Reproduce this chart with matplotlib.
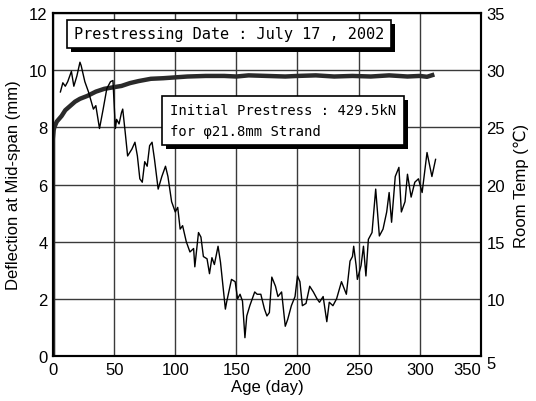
# deflection at mid-span and room temperature vs age

import matplotlib
matplotlib.use('Agg')
import matplotlib.pyplot as plt
import matplotlib.patheffects as pe
from matplotlib import font_manager

# deflection (thick line), mm
defl_day = [0, 0, 0.5, 1, 2, 3, 5, 7, 10, 14, 18, 22, 28, 35, 42, 49, 56, 63, 70, 80,
            90, 100, 110, 125, 140, 150, 160, 175, 190, 200, 215, 230, 245, 260, 275,
            290, 300, 306, 312]
defl = [0, 7.6, 7.9, 8.0, 8.1, 8.2, 8.3, 8.4, 8.6, 8.75, 8.9, 9.0, 9.1, 9.25, 9.35,
        9.4, 9.45, 9.55, 9.62, 9.7, 9.72, 9.75, 9.78, 9.8, 9.8, 9.78, 9.82, 9.8, 9.78,
        9.8, 9.82, 9.78, 9.8, 9.78, 9.82, 9.78, 9.8, 9.77, 9.85]

# room temperature (thin line), deg C
temp_day = [6, 8, 10, 12, 15, 17, 19.5, 22, 23, 26, 29, 33, 35, 38, 41, 44, 47, 49, 51, 52,
            54, 56, 57, 59, 61, 64.5, 67, 69, 71, 73, 75, 77, 79, 81, 83, 86, 89, 92, 94, 97,
            100, 102, 104, 106, 109, 112, 115, 116, 119, 121, 123, 126, 128, 130, 132, 135,
            137, 141, 142, 146, 149, 151, 153, 155, 157, 158.5, 161, 165, 167, 170, 173,
            175, 177, 179, 182, 184, 187, 190, 192, 195, 198, 200, 202, 204, 207, 210, 213,
            216, 218, 221, 224, 226, 229, 232, 236, 240, 243, 245, 246, 248, 249, 252, 254,
            256, 258, 261, 264, 267, 270, 273, 275, 277, 280, 283, 285, 288, 290, 293, 296,
            299, 302, 306, 310, 313]
temp = [28.1, 28.9, 28.6, 29.0, 29.9, 28.6, 29.5, 30.7, 30.4, 29.0, 28.1, 26.6, 26.9, 24.9,
        26.6, 28.4, 29.0, 29.1, 24.9, 25.7, 25.3, 26.3, 26.6, 24.6, 22.5, 23.1, 23.7, 22.5,
        20.5, 20.2, 22.0, 21.6, 23.4, 23.7, 22.2, 19.6, 20.7, 21.6, 20.7, 18.5, 17.6, 18.0,
        16.1, 16.4, 15.0, 14.1, 14.4, 12.8, 15.8, 15.4, 13.7, 13.5, 12.2, 13.6, 13.0, 14.6,
        13.2, 9.1, 9.7, 11.7, 11.5, 10.0, 10.4, 9.8, 6.6, 8.5, 9.4, 10.6, 10.4, 10.4, 9.1,
        8.5, 8.8, 11.9, 11.1, 10.2, 10.6, 7.6, 8.2, 9.4, 10.2, 12.0, 11.5, 9.4, 9.6, 11.1,
        10.6, 10.0, 9.7, 10.2, 8.0, 9.7, 9.4, 10.0, 11.5, 10.4, 13.3, 13.7, 14.6, 12.9, 11.7,
        12.9, 14.6, 12.0, 15.2, 15.8, 19.6, 15.5, 16.1, 17.6, 19.3, 16.7, 20.7, 21.5, 17.6,
        18.5, 20.9, 18.9, 20.2, 20.5, 19.3, 22.8, 20.7, 22.2]

x_ticks = [0, 50, 100, 150, 200, 250, 300, 350]
defl_ticks = [0, 2, 4, 6, 8, 10, 12]
temp_ticks = [5, 10, 15, 20, 25, 30, 35]

names = {f.name for f in font_manager.fontManager.ttflist}
tickfont = 'Liberation Sans Narrow' if 'Liberation Sans Narrow' in names else 'Liberation Sans'
mono = 'DejaVu Sans Mono'

fig = plt.figure(figsize=(5.36, 4.02), dpi=100)
ax = fig.add_axes([0.099, 0.112, 0.798, 0.853])
ax2 = ax.twinx()

ax.plot(defl_day, defl, color='#2a2a2a', lw=3.2, solid_capstyle='butt')
ax2.plot(temp_day, temp, color='black', lw=1.0)

ax.set_xlim(0, 350)
ax.set_ylim(0, 12)
ax2.set_ylim(5, 35)
ax.set_xticks(x_ticks)
ax.set_yticks(defl_ticks)
ax2.set_yticks(temp_ticks)
ax.grid(True, color='#3a3a3a', lw=1.0)
ax.set_axisbelow(True)

for a in (ax, ax2):
    a.tick_params(length=0, labelsize=12, pad=4)
    for lab in a.get_xticklabels() + a.get_yticklabels():
        lab.set_fontfamily(tickfont)
    for s in a.spines.values():
        s.set_linewidth(1.5)

# "350" sits just left of the corner, "5" hangs below the spine, as in the original
ax.get_xticklabels()[-1].set_horizontalalignment('right')
ax2.get_yticklabels()[0].set_verticalalignment('top')

ax.set_xlabel('Age (day)', fontsize=12, family='Liberation Sans', labelpad=2)
ax.set_ylabel('Deflection at Mid-span (mm)', fontsize=12, family='Liberation Sans', labelpad=6)
ax2.set_ylabel('Room Temp (\u2103)', fontsize=12, family=['Liberation Sans', 'DejaVu Sans'], labelpad=6)

shadow = [pe.SimplePatchShadow(offset=(3, -3), shadow_rgbFace='black', alpha=1.0), pe.Normal()]

t1 = ax.text(17, 11.27, 'Prestressing Date : July 17 , 2002', fontsize=11, family=mono,
             ha='left', va='center',
             bbox=dict(boxstyle='square,pad=0.45', fc='white', ec='black', lw=1.2))
t1.get_bbox_patch().set_path_effects(shadow)

t2 = ax.text(95.5, 8.24, 'Initial Prestress : 429.5kN\nfor \u03c621.8mm Strand', fontsize=10,
             family=mono, ha='left', va='center', linespacing=1.55,
             bbox=dict(boxstyle='square,pad=0.55', fc='white', ec='black', lw=1.2))
t2.get_bbox_patch().set_path_effects(shadow)

fig.savefig('out.png', dpi=100)
